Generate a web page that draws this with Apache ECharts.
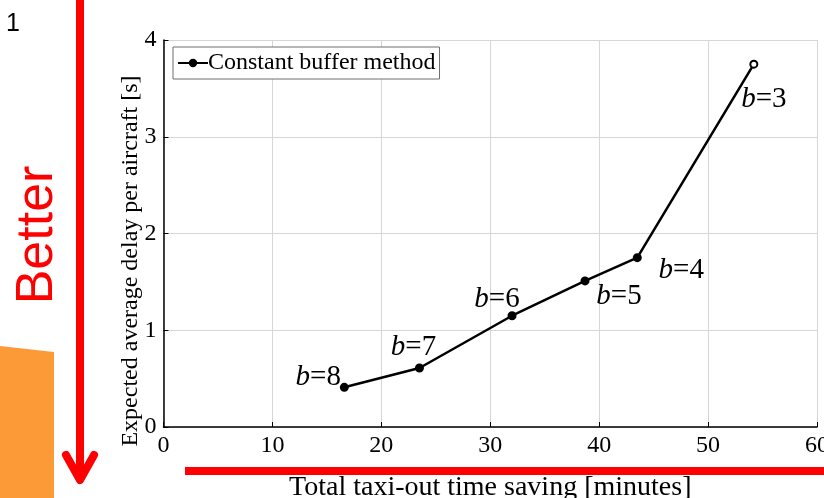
<!DOCTYPE html>
<html>
<head>
<meta charset="utf-8">
<script src="https://cdn.jsdelivr.net/npm/echarts@6/dist/echarts.min.js"></script>
<style>
html,body{margin:0;padding:0;background:#fff;}
#chart{width:824px;height:498px;}
</style>
</head>
<body>
<div id="chart"></div>
<script>
// ---- data ----
const bufferLabels = ['8', '7', '6', '5', '4', '3'];
const taxiSaving = [16.6, 23.5, 32.0, 38.7, 43.5, 54.2];
const avgDelay = [0.41, 0.61, 1.15, 1.51, 1.75, 3.75];
const xTicks = [0, 10, 20, 30, 40, 50, 60];
const yTicks = [0, 1, 2, 3, 4];
const seriesName = 'Constant buffer method';
const xTitle = 'Total taxi-out time saving [minutes]';
const yTitle = 'Expected average delay per aircraft [s]';

// ---- styling ----
const serif = '"Liberation Serif", "Times New Roman", serif';
const sans = '"Liberation Sans", Arial, sans-serif';
const labelOffsets = [[-26, -10], [-6, -21], [-15, -16], [34, 15], [44, 13], [10, 35]];

const chart = echarts.init(document.getElementById('chart'), null, {renderer: 'canvas'});

const points = taxiSaving.map((x, i) => ({
  value: [x, avgDelay[i]],
  symbol: i === taxiSaving.length - 1 ? 'emptyCircle' : 'circle',
  label: {
    show: true,
    position: 'inside',
    offset: labelOffsets[i],
    formatter: '{i|b}{n|=' + bufferLabels[i] + '}',
    rich: {
      i: {fontFamily: serif, fontStyle: 'italic', fontSize: 29, color: '#000'},
      n: {fontFamily: serif, fontSize: 29, color: '#000'}
    }
  }
}));

const axisCommon = {
  axisLine: {show: true, onZero: false, lineStyle: {color: '#000', width: 1.5}},
  axisTick: {show: true, inside: true, length: 5, lineStyle: {color: '#000', width: 1}},
  splitLine: {show: true, lineStyle: {color: '#d6d6d6', width: 1}},
  axisLabel: {fontFamily: serif, fontSize: 24, color: '#000', margin: 7}
};

chart.setOption({
  animation: false,
  backgroundColor: '#fff',
  grid: {left: 163.5, right: 7, top: 40, bottom: 71, containLabel: false, outerBoundsMode: 'none'},
  legend: {
    left: 173, top: 47,
    orient: 'vertical',
    padding: [4, 4, 4, 4],
    itemWidth: 30, itemHeight: 8, itemGap: 0,
    backgroundColor: '#fff',
    borderColor: '#6e6e6e', borderWidth: 1,
    textStyle: {fontFamily: serif, fontSize: 24, color: '#000', padding: [0, 0, 0, -5]},
    data: [seriesName]
  },
  xAxis: Object.assign({}, axisCommon, {
    type: 'value', min: xTicks[0], max: xTicks[xTicks.length - 1], interval: xTicks[1] - xTicks[0],
    name: xTitle, nameLocation: 'middle', nameGap: 47,
    nameTextStyle: {fontFamily: serif, fontSize: 28, color: '#000'}
  }),
  yAxis: Object.assign({}, axisCommon, {
    type: 'value', min: yTicks[0], max: yTicks[yTicks.length - 1], interval: yTicks[1] - yTicks[0]
  }),
  series: [{
    name: seriesName,
    type: 'line',
    data: points,
    symbol: 'circle',
    symbolSize: 7,
    lineStyle: {color: '#000', width: 2.5},
    itemStyle: {color: '#000', borderColor: '#000', borderWidth: 2},
    emphasis: {disabled: true},
    z: 5
  }],
  graphic: [
    {type: 'text', z: 50, x: 131, y: 261, rotation: Math.PI / 2,
      style: {text: yTitle, fontFamily: serif, fontSize: 24, fill: '#000', align: 'center', verticalAlign: 'middle'}},
    {type: 'polygon', z: 100, shape: {points: [[0, 346], [54, 352], [54, 498], [0, 498]]}, style: {fill: '#fd9a38'}},
    {type: 'text', z: 100, left: 6, top: 12, style: {text: '1', fontFamily: sans, fontSize: 25, fill: '#000'}},
    {type: 'line', z: 100, shape: {x1: 80, y1: 0, x2: 80, y2: 478}, style: {stroke: '#ff0000', lineWidth: 8}},
    {type: 'polyline', z: 100, shape: {points: [[66, 455], [80, 480], [94, 455]]}, style: {stroke: '#ff0000', lineWidth: 8, lineCap: 'round', lineJoin: 'round', fill: null}},
    {type: 'text', z: 100, x: 38, y: 235, rotation: Math.PI / 2,
      style: {text: 'Better', fontFamily: sans, fontSize: 52, fill: '#ff0000', align: 'center', verticalAlign: 'middle'}},
    {type: 'rect', z: 100, shape: {x: 185, y: 467, width: 639, height: 8}, style: {fill: '#ff0000'}}
  ]
});
</script>
</body>
</html>
